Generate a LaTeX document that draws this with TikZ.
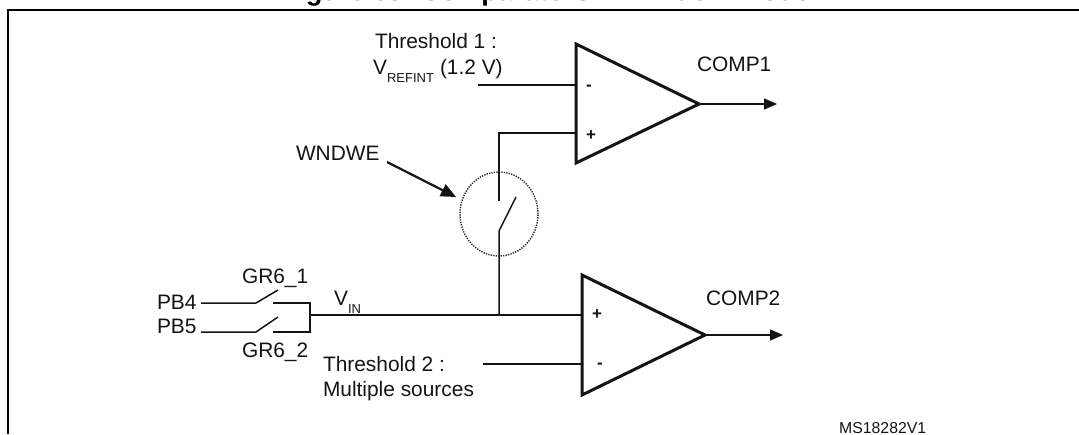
\documentclass[tikz,border=0pt]{standalone}
\usepackage{fontspec}
\setmainfont{Liberation Sans}
\usetikzlibrary{arrows.meta,shapes.geometric}
\tikzset{
  x=1pt,y=-1pt,
  lbl/.style={inner sep=0pt,outer sep=0pt,anchor=base west,font=\fontsize{20.9}{24}\selectfont,text=black!92},
  sub/.style={inner sep=0pt,outer sep=0pt,anchor=base west,font=\fontsize{13}{15}\selectfont,text=black!92},
  sign/.style={inner sep=0pt,outer sep=0pt,anchor=center,font=\fontsize{17}{20}\selectfont\bfseries,text=black!92},
  wire/.style={line width=1.5pt,draw=black!92},
  frameline/.style={line width=2pt,draw=black},
  amp/.style={line width=3pt,draw=black!92,line join=miter,miter limit=4},
  outarrow/.style={wire,-{Triangle[length=13pt,width=11pt]}},
  pointer/.style={line width=2.2pt,draw=black!92,-{Triangle[length=15pt,width=13pt]}},
  halo/.style={draw=black!85,line width=1.4pt,dash pattern=on 1.3pt off 1.2pt,ellipse,inner sep=0pt,outer sep=0pt,minimum width=78pt,minimum height=84pt},
}
\begin{document}
\begin{tikzpicture}
\useasboundingbox (0,0) rectangle (1079,434);
% frame
\coordinate (fb) at (8,434);
\coordinate (ftl) at (8,10);
\coordinate (fr) at (1079,10);
\draw[frameline] (fb) -- (ftl) -- (fr);
\node[inner sep=0pt,anchor=base,font=\fontsize{27.3}{30}\selectfont\bfseries] (title) at (546,0.7) {Figure 65. Comparators in window mode};
% comparator 1
\coordinate (c1t) at (576,44);
\coordinate (c1b) at (576,163);
\coordinate (c1o) at (699,104);
\draw[amp] (c1t) -- (c1o) -- (c1b) -- cycle;
\coordinate (c1m) at (576,85);
\coordinate (c1p) at (576,133);
\coordinate (c1e) at (777,104);
\draw[outarrow] (c1o) -- (c1e);
\node[sign] (c1minus) at (589,88) {-};
\node[sign] (c1plus) at (591,136) {+};
\node[lbl] (comp1) at (697,71.5) {COMP1};
% comparator 2
\coordinate (c2t) at (582,275);
\coordinate (c2b) at (582,395);
\coordinate (c2o) at (705,335);
\draw[amp] (c2t) -- (c2o) -- (c2b) -- cycle;
\coordinate (c2p) at (582,315);
\coordinate (c2m) at (582,364);
\coordinate (c2e) at (783,335);
\draw[outarrow] (c2o) -- (c2e);
\node[sign] (c2plus) at (597,315) {+};
\node[sign] (c2minus) at (600,366) {-};
\node[lbl] (comp2) at (706,305.5) {COMP2};
% threshold 1
\node[lbl] (th1) at (375,48) {Threshold 1 :};
\node[lbl] (v1) at (373,74) {V};
\node[sub] (v1s) at (387,82) {REFINT};
\node[lbl] (v1r) at (440,74) {(1.2 V)};
\coordinate (th1w) at (478,85);
\draw[wire] (th1w) -- (c1m);
% threshold 2
\node[lbl] (th2) at (323,371) {Threshold 2 :};
\node[lbl] (ms) at (323,396) {Multiple sources};
\coordinate (th2w) at (483,364);
\draw[wire] (th2w) -- (c2m);
% window switch
\coordinate (sa) at (499,133);
\coordinate (sb) at (499,201);
\coordinate (sc) at (499,231);
\coordinate (sd) at (516,197);
\coordinate (vj) at (499,315);
\draw[wire] (c1p) -- (sa) -- (sb);
\draw[wire] (vj) -- (sc) -- (sd);
\node[halo] (win) at (499,214) {};
\node[lbl] (wnd) at (296,160) {WNDWE};
\coordinate (pa) at (387,162);
\coordinate (pb) at (456,197);
\draw[pointer] (pa) -- (pb);
% input switches
\node[lbl] (pb4) at (157,309) {PB4};
\node[lbl] (pb5) at (157,333) {PB5};
\node[lbl] (gr1) at (242,283) {GR6\_1};
\node[lbl] (gr2) at (242,357) {GR6\_2};
\coordinate (a1) at (201,303);
\coordinate (a2) at (256,303);
\coordinate (a3) at (278,290);
\coordinate (a4) at (273,303);
\coordinate (a5) at (310,303);
\coordinate (b1) at (201,332);
\coordinate (b2) at (256,332);
\coordinate (b3) at (278,317);
\coordinate (b4) at (273,332);
\coordinate (b5) at (310,332);
\coordinate (jn) at (310,315);
\draw[wire] (a1) -- (a2) -- (a3);
\draw[wire] (b1) -- (b2) -- (b3);
\draw[wire] (a4) -- (a5) -- (b5) -- (b4);
\draw[wire] (jn) -- (c2p);
\node[lbl] (vin) at (334,305) {V};
\node[sub] (vins) at (348,313) {IN};
% reference
\node[inner sep=0pt,anchor=base west,font=\fontsize{15.8}{18}\selectfont,text=black!92] (ms1) at (839,433.7) {MS18282V1};
\end{tikzpicture}
\end{document}
